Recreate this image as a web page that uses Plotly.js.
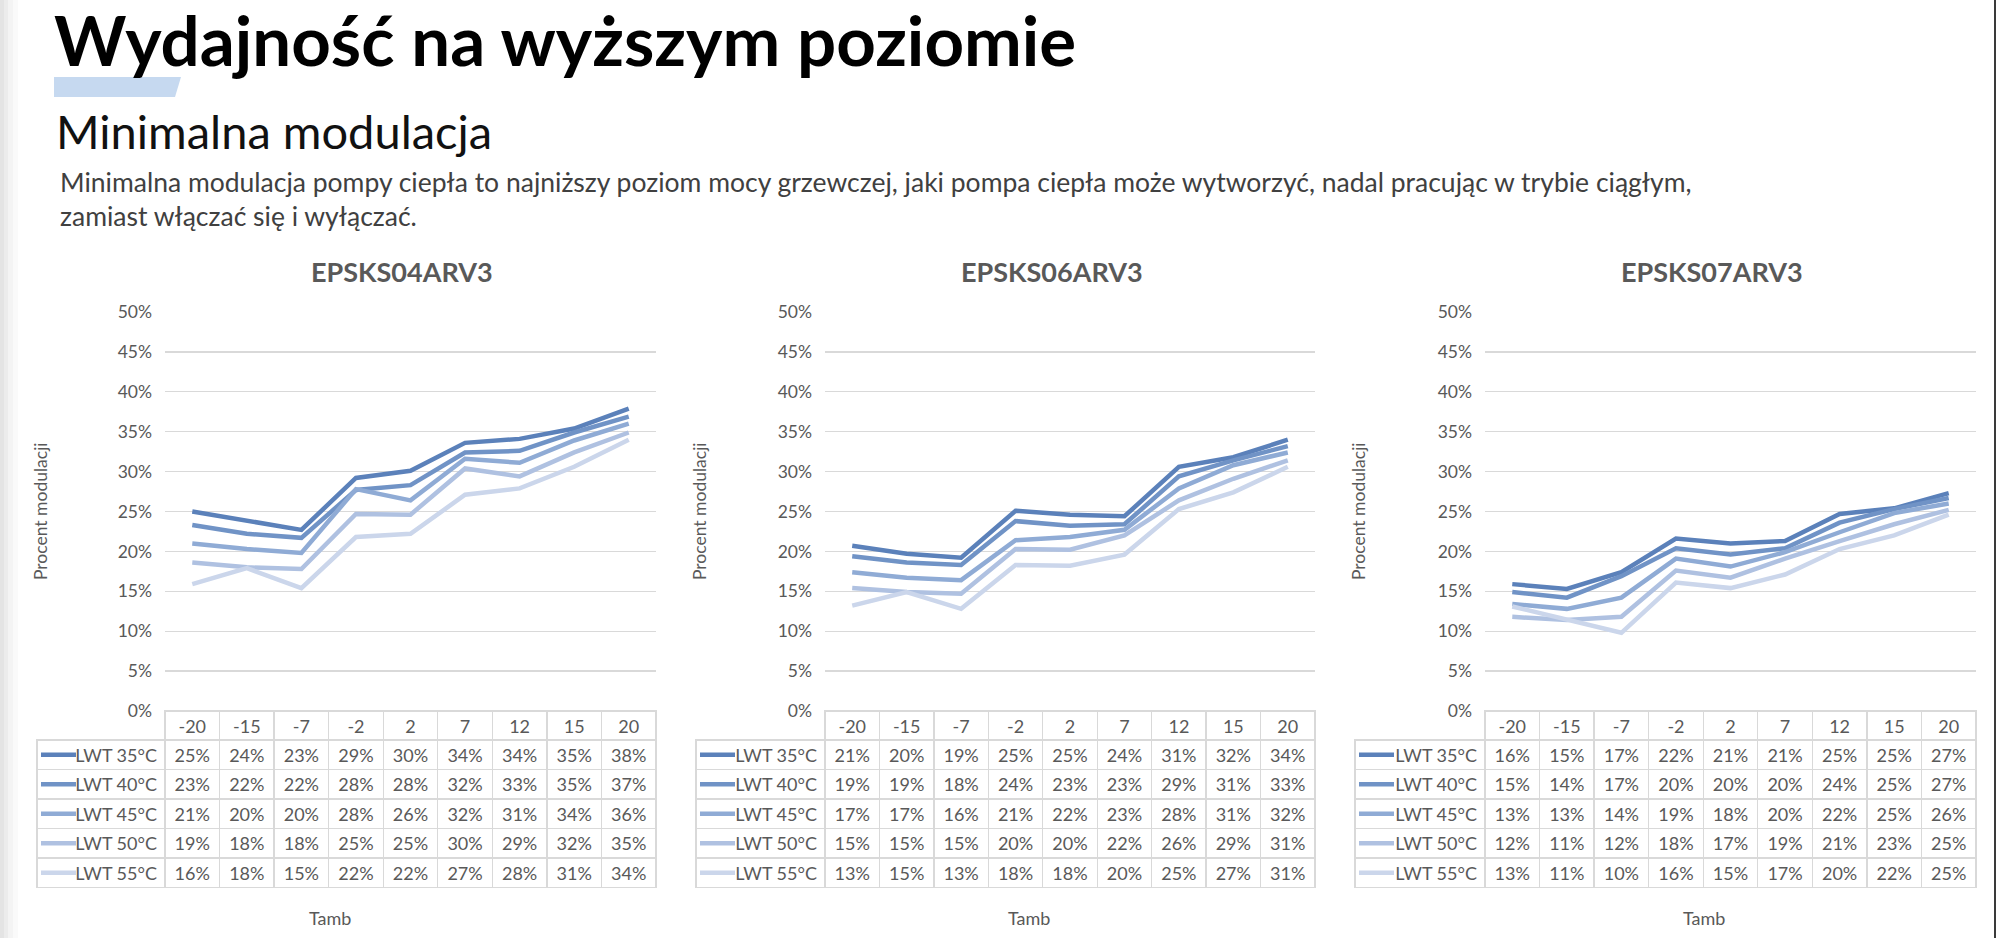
<!DOCTYPE html>
<html>
<head>
<meta charset="utf-8">
<script src="https://cdn.plot.ly/plotly-3.0.1.min.js"></script>
<style>html, body { margin: 0; padding: 0; background: #fff; }</style>
</head>
<body>
<div id="plot" style="width:2000px;height:938px"></div>
<script>
// Outdoor temperature (Tamb) categories shown under each chart
var tamb = ['-20', '-15', '-7', '-2', '2', '7', '12', '15', '20'];
var lwtNames = ['LWT 35°C', 'LWT 40°C', 'LWT 45°C', 'LWT 50°C', 'LWT 55°C'];
var models = ['EPSKS04ARV3', 'EPSKS06ARV3', 'EPSKS07ARV3'];

// EPSKS04ARV3 - minimum modulation in %, one array per leaving water temperature
var ks04_35 = [25.0, 23.9, 22.7, 29.2, 30.1, 33.6, 34.1, 35.4, 37.9];
var ks04_40 = [23.3, 22.2, 21.7, 27.7, 28.3, 32.4, 32.6, 34.9, 36.9];
var ks04_45 = [21.0, 20.3, 19.8, 27.8, 26.4, 31.6, 31.1, 33.9, 36.0];
var ks04_50 = [18.6, 18.0, 17.8, 24.7, 24.6, 30.4, 29.4, 32.4, 34.9];
var ks04_55 = [15.9, 17.9, 15.4, 21.8, 22.2, 27.1, 27.9, 30.6, 34.0];

// EPSKS06ARV3
var ks06_35 = [20.7, 19.7, 19.2, 25.1, 24.6, 24.4, 30.6, 31.8, 34.0];
var ks06_40 = [19.4, 18.6, 18.3, 23.8, 23.2, 23.4, 29.4, 31.4, 33.2];
var ks06_45 = [17.4, 16.7, 16.4, 21.4, 21.8, 22.7, 27.9, 30.8, 32.4];
var ks06_50 = [15.4, 14.9, 14.7, 20.3, 20.2, 22.0, 26.4, 29.1, 31.4];
var ks06_55 = [13.2, 14.9, 12.8, 18.3, 18.2, 19.6, 25.3, 27.4, 30.6];

// EPSKS07ARV3
var ks07_35 = [15.9, 15.3, 17.4, 21.6, 21.0, 21.3, 24.7, 25.4, 27.3];
var ks07_40 = [14.9, 14.2, 16.9, 20.4, 19.6, 20.4, 23.6, 25.3, 26.7];
var ks07_45 = [13.4, 12.8, 14.2, 19.1, 18.1, 19.9, 22.4, 24.8, 26.0];
var ks07_50 = [11.8, 11.4, 11.8, 17.6, 16.7, 19.1, 21.3, 23.4, 25.2];
var ks07_55 = [13.1, 11.4, 9.8, 16.1, 15.4, 17.1, 20.3, 22.0, 24.6];

var chartData = [
    [ks04_35, ks04_40, ks04_45, ks04_50, ks04_55],
    [ks06_35, ks06_40, ks06_45, ks06_50, ks06_55],
    [ks07_35, ks07_40, ks07_45, ks07_50, ks07_55]
];

var lineColors = ['#5b81ba', '#7093c6', '#8fabd5', '#afc1e1', '#cbd6eb'];
var textFont = 'Lato, "Open Sans", sans-serif';
var W = 2000, H = 938;

//Pixel positions of each chart block (table left edge, plot area left/right, label centres)
var blocks = [
    {tableLeft: 37, plotLeft: 165, plotRight: 656, titleX: 402, tambX: 330, yTitleX: 40},
    {tableLeft: 696, plotLeft: 825, plotRight: 1315, titleX: 1052, tambX: 1029, yTitleX: 699},
    {tableLeft: 1355, plotLeft: 1485, plotRight: 1976, titleX: 1712, tambX: 1704, yTitleX: 1358}
];
var plotTop = 312, plotBottom = 711;
var headerH = 29, rowH = 29.5;
var bodyTop = plotBottom + headerH, bodyBottom = bodyTop + rowH * lwtNames.length;

function fx(px) { return px / W; }
function fy(py) { return 1 - py / H; }

var traces = [];
var layout = {
    width: W,
    height: H,
    margin: {l: 0, r: 0, t: 0, b: 0},
    paper_bgcolor: '#fff',
    plot_bgcolor: 'rgba(0,0,0,0)',
    showlegend: false,
    font: {family: textFont, color: '#595959'},
    annotations: [],
    shapes: []
};

blocks.forEach(function(b, c) {
    var xName = c === 0 ? 'x' : 'x' + (c + 1);
    var yName = c === 0 ? 'y' : 'y' + (c + 1);
    var xKey = c === 0 ? 'xaxis' : 'xaxis' + (c + 1);
    var yKey = c === 0 ? 'yaxis' : 'yaxis' + (c + 1);
    //Extra hidden axes that hold the legend keys in the first table column
    var kx = 'x' + (c + 4), ky = 'y' + (c + 4);

    //One line per LWT series
    chartData[c].forEach(function(vals, s) {
        traces.push({
            type: 'scatter',
            mode: 'lines',
            x: tamb,
            y: vals,
            name: lwtNames[s],
            xaxis: xName,
            yaxis: yName,
            line: {color: lineColors[s], width: 4.5},
            hoverinfo: 'x+y+name'
        });
        traces.push({
            type: 'scatter',
            mode: 'lines',
            x: [0, 1],
            y: [lwtNames[s], lwtNames[s]],
            xaxis: kx,
            yaxis: ky,
            line: {color: lineColors[s], width: 4.5},
            hoverinfo: 'skip'
        });
    });

    layout[xKey] = {
        domain: [fx(b.plotLeft), fx(b.plotRight)],
        anchor: yName,
        type: 'category',
        range: [-0.5, 8.5],
        showticklabels: false,
        showgrid: false,
        zeroline: false,
        showline: false,
        ticks: ''
    };
    layout[yKey] = {
        domain: [fy(plotBottom), fy(plotTop)],
        anchor: xName,
        range: [0, 50],
        dtick: 5,
        ticksuffix: '%',
        showgrid: true,
        gridcolor: '#d9d9d9',
        gridwidth: 1.3,
        zeroline: false,
        showline: false,
        ticks: '',
        ticklabelstandoff: 12,
        tickfont: {family: textFont, size: 17.5, color: '#595959'}
    };
    layout['xaxis' + (c + 4)] = {
        domain: [fx(b.tableLeft + 4), fx(b.tableLeft + 39)],
        anchor: ky, range: [0, 1], visible: false, fixedrange: true
    };
    layout['yaxis' + (c + 4)] = {
        domain: [fy(bodyBottom), fy(bodyTop)],
        anchor: kx, type: 'category', categoryarray: lwtNames,
        range: [lwtNames.length - 0.5, -0.5], visible: false, fixedrange: true
    };

    //Data table under the chart: header row holds the Tamb categories
    var headerVals = [['']].concat(tamb.map(function(t) { return [t]; }));
    //Non-breaking spaces keep each label on one line (table wraps on spaces)
    var labelCol = lwtNames.map(function(n) { return n.replace(/ /g, '\u00a0'); });
    var cellVals = [labelCol];
    tamb.forEach(function(t, j) {
        cellVals.push(chartData[c].map(function(vals) { return Math.round(vals[j]) + '%'; }));
    });
    var colW = [b.plotLeft - b.tableLeft];
    var headerFill = ['rgba(0,0,0,0)'];
    var headerLine = ['rgba(0,0,0,0)'];
    var cellFill = ['rgba(0,0,0,0)'];
    var aligns = ['right'];
    tamb.forEach(function() {
        colW.push((b.plotRight - b.plotLeft) / tamb.length);
        headerFill.push('#fff');
        headerLine.push('#d9d9d9');
        cellFill.push('#fff');
        aligns.push('center');
    });
    traces.push({
        type: 'table',
        domain: {x: [fx(b.tableLeft), fx(b.plotRight)], y: [fy(bodyBottom + 4), fy(plotBottom)]},
        columnwidth: colW,
        header: {
            values: headerVals,
            height: headerH,
            align: 'center',
            fill: {color: headerFill},
            line: {color: headerLine, width: 1.3},
            font: {family: textFont, size: 18, color: '#595959'}
        },
        cells: {
            values: cellVals,
            height: rowH,
            align: aligns,
            fill: {color: cellFill},
            line: {color: '#d9d9d9', width: 1.3},
            font: {family: textFont, size: 18, color: '#595959'}
        }
    });

    //Chart title, y axis title and x axis title
    layout.annotations.push({
        text: '<b>' + models[c] + '</b>', xref: 'paper', yref: 'paper',
        x: fx(b.titleX), y: fy(271), xanchor: 'center', yanchor: 'middle', showarrow: false,
        font: {family: textFont, size: 27, color: '#595959'}
    });
    layout.annotations.push({
        text: 'Procent modulacji', xref: 'paper', yref: 'paper', textangle: -90,
        x: fx(b.yTitleX), y: fy(511), xanchor: 'center', yanchor: 'middle', showarrow: false,
        font: {family: textFont, size: 17.5, color: '#595959'}
    });
    layout.annotations.push({
        text: 'Tamb', xref: 'paper', yref: 'paper',
        x: fx(b.tambX), y: fy(918), xanchor: 'center', yanchor: 'middle', showarrow: false,
        font: {family: textFont, size: 18, color: '#595959'}
    });
});

//Page heading texts
layout.annotations.push({
    text: '<b>Wydajność na wyższym poziomie</b>', xref: 'paper', yref: 'paper',
    x: fx(52), y: fy(40), xanchor: 'left', yanchor: 'middle', showarrow: false,
    font: {family: textFont, size: 69, color: '#000'}
});
layout.annotations.push({
    text: 'Minimalna modulacja', xref: 'paper', yref: 'paper',
    x: fx(54), y: fy(131), xanchor: 'left', yanchor: 'middle', showarrow: false,
    font: {family: textFont, size: 47, color: '#111'}
});
layout.annotations.push({
    text: 'Minimalna modulacja pompy ciepła to najniższy poziom mocy grzewczej, jaki pompa ciepła może wytworzyć, nadal pracując w trybie ciągłym,',
    xref: 'paper', yref: 'paper',
    x: fx(58), y: fy(182), xanchor: 'left', yanchor: 'middle', showarrow: false,
    font: {family: textFont, size: 26.5, color: '#404040'}
});
layout.annotations.push({
    text: 'zamiast włączać się i wyłączać.',
    xref: 'paper', yref: 'paper',
    x: fx(58), y: fy(216), xanchor: 'left', yanchor: 'middle', showarrow: false,
    font: {family: textFont, size: 26.5, color: '#404040'}
});

//Light blue accent bar under the heading
layout.shapes.push({
    type: 'path', xref: 'paper', yref: 'paper', layer: 'below',
    path: 'M ' + fx(54) + ',' + fy(77) + ' L ' + fx(181) + ',' + fy(77) + ' L ' + fx(175) + ',' + fy(97) + ' L ' + fx(54) + ',' + fy(97) + ' Z',
    fillcolor: '#c6d9f0', line: {width: 0}
});
//Soft shadow on the left page edge and dark line on the right edge
[['#e4e4e4', 0, 4], ['#ececec', 4, 8], ['#f4f4f4', 8, 13], ['#fafafa', 13, 18]].forEach(function(s) {
    layout.shapes.push({type: 'rect', xref: 'paper', yref: 'paper', layer: 'below',
        x0: fx(s[1]), x1: fx(s[2]), y0: 0, y1: 1, fillcolor: s[0], line: {width: 0}});
});
layout.shapes.push({type: 'line', xref: 'paper', yref: 'paper',
    x0: fx(1995), x1: fx(1995), y0: 0, y1: 1, line: {color: '#3a3a3a', width: 2}});

document.addEventListener('DOMContentLoaded', function() {
    Plotly.newPlot('plot', traces, layout, {displayModeBar: false, staticPlot: true});
});
</script>
</body>
</html>
